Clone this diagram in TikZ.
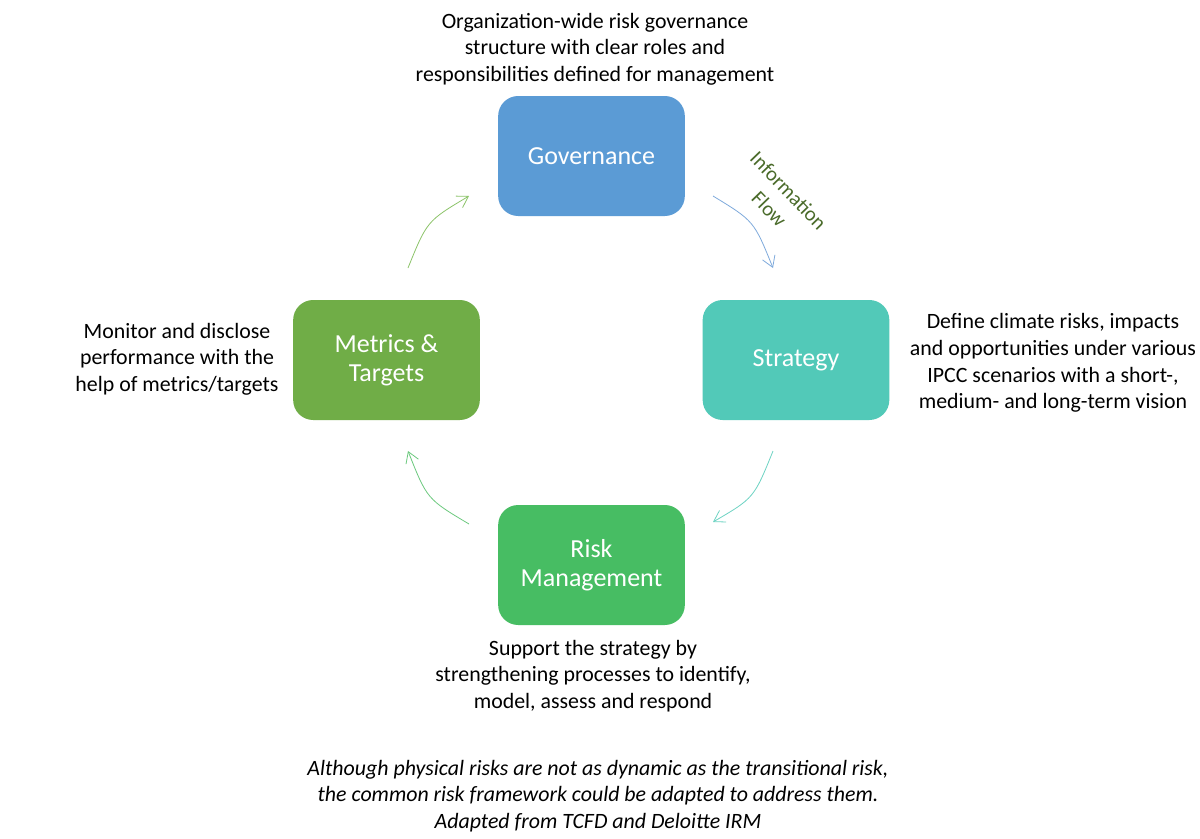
\documentclass[tikz,border=0pt]{standalone}
\usepackage{fontspec}
\setmainfont{Carlito}
\usetikzlibrary{arrows.meta}
\definecolor{govc}{HTML}{5B9BD5}
\definecolor{strc}{HTML}{52C9B8}
\definecolor{metc}{HTML}{70AD47}
\definecolor{riskc}{HTML}{47BD63}
\definecolor{arrblue}{HTML}{7FAADC}
\definecolor{arrteal}{HTML}{6DD3C3}
\definecolor{arrgreen}{HTML}{6CC97E}
\definecolor{arrlgreen}{HTML}{8DC46A}
\definecolor{flowc}{HTML}{4A6B2A}
\tikzset{
  pillar/.style={draw=none, fill=#1, rounded corners=15pt, minimum width=140pt, minimum height=90pt,
    text=white, align=center, font=\fontsize{19.5pt}{22pt}\selectfont},
  desc/.style={align=center, text=black, font=\fontsize{16.4pt}{20pt}\selectfont, inner sep=0pt},
  flow/.style={-{Straight Barb[length=8pt,width=10pt]}, line width=0.6pt, draw=#1},
}
\begin{document}
\begin{tikzpicture}[x=0.75pt,y=-0.75pt]
\useasboundingbox (0,0) rectangle (1200,839);
\fill[white] (0,0) rectangle (1200,839);
\node[pillar=govc] (gov) at (591.5,156) {Governance};
\node[pillar=strc] (str) at (796,360) {Strategy};
\node[pillar=metc] (met) at (386.5,360) {Metrics \&\\Targets};
\node[pillar=riskc] (risk) at (591.5,565) {Risk\\Management};

\node[desc] (dgov) at (595,49) {Organization-wide risk governance\\structure with clear roles and\\responsibilities defined for management};
\node[desc] (dstr) at (1053,363) {Define climate risks, impacts\\and opportunities under various\\IPCC scenarios with a short-,\\medium- and long-term vision};
\node[desc] (dmet) at (177,359) {Monitor and disclose\\performance with the\\help of metrics/targets};
\node[desc] (drisk) at (593,676) {Support the strategy by\\strengthening processes to identify,\\model, assess and respond};
\node[desc, font=\fontsize{16.4pt}{20pt}\selectfont\itshape] (cap) at (598,796) {Although physical risks are not as dynamic as the transitional risk,\\the common risk framework could be adapted to address them.\\Adapted from TCFD and Deloitte IRM};

\node[desc, font=\fontsize{15.5pt}{20pt}\selectfont, text=flowc, rotate=-46] (flowlbl) at (779,200) {Information\\Flow};

\coordinate (a1s) at (713,196); \coordinate (a1e) at (773,268);
\coordinate (a2s) at (773,451); \coordinate (a2e) at (713,522);
\coordinate (a3s) at (469,524); \coordinate (a3e) at (408,451);
\coordinate (a4s) at (408,268); \coordinate (a4e) at (469,196);
\draw[flow=arrblue] (a1s) .. controls (754,221) .. (a1e);
\draw[flow=arrteal] (a2s) .. controls (754,498) .. (a2e);
\draw[flow=arrgreen] (a3s) .. controls (427,499) .. (a3e);
\draw[flow=arrlgreen] (a4s) .. controls (427,221) .. (a4e);
\end{tikzpicture}
\end{document}
